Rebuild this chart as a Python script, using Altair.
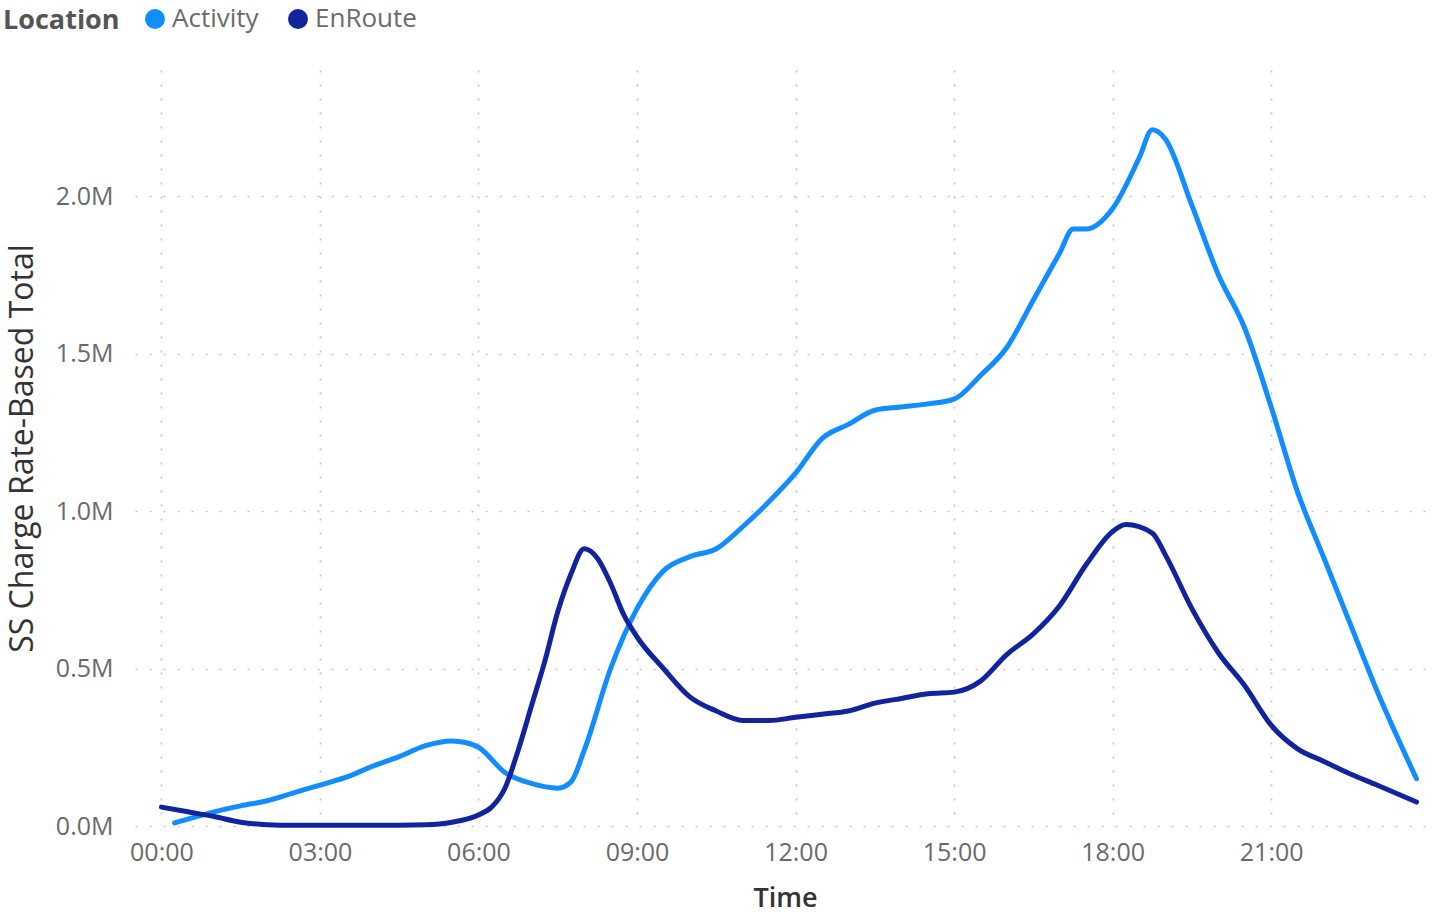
import altair as alt
import pandas as pd

# ---- data (hours of day, values in millions) ----
activity_hours = [0.25, 0.5, 1.0, 1.5, 2.0, 2.5, 3.0, 3.5, 4.0, 4.5, 5.0, 5.5, 5.75, 6.0, 6.5, 7.0,
                  7.5, 7.75, 8.0, 8.5, 9.0, 9.5, 10.0, 10.5, 11.0, 11.5, 12.0, 12.5, 13.0, 13.5,
                  14.0, 14.5, 15.0, 15.5, 16.0, 16.5, 17.0, 17.25, 17.5, 18.0, 18.5, 18.75, 19.0,
                  19.5, 20.0, 20.5, 21.0, 21.5, 22.0, 22.5, 23.0, 23.75]
activity_values = [0.01, 0.022, 0.045, 0.064, 0.08, 0.105, 0.13, 0.155, 0.19, 0.22, 0.255, 0.27, 0.265,
                   0.25, 0.17, 0.135, 0.12, 0.14, 0.24, 0.50, 0.69, 0.81, 0.855, 0.88, 0.95, 1.03,
                   1.12, 1.23, 1.275, 1.32, 1.33, 1.34, 1.355, 1.43, 1.52, 1.67, 1.82, 1.895, 1.895,
                   1.96, 2.12, 2.21, 2.18, 1.97, 1.75, 1.58, 1.33, 1.06, 0.85, 0.64, 0.43, 0.15]

enroute_hours = [0.0, 0.5, 1.0, 1.5, 2.0, 2.5, 3.0, 4.0, 5.0, 5.5, 6.0, 6.25, 6.5, 6.75, 7.0, 7.25,
                 7.5, 7.75, 8.0, 8.25, 8.5, 8.75, 9.0, 9.5, 10.0, 10.5, 11.0, 11.5, 12.0, 12.5,
                 13.0, 13.5, 14.0, 14.5, 15.0, 15.5, 16.0, 16.5, 17.0, 17.5, 18.0, 18.25, 18.75,
                 19.0, 19.5, 20.0, 20.5, 21.0, 21.5, 22.0, 22.5, 23.0, 23.75]
enroute_values = [0.06, 0.045, 0.03, 0.012, 0.004, 0.002, 0.002, 0.002, 0.004, 0.012, 0.035, 0.06,
                  0.12, 0.24, 0.38, 0.52, 0.68, 0.80, 0.88, 0.85, 0.77, 0.67, 0.60, 0.50, 0.41,
                  0.365, 0.335, 0.335, 0.345, 0.355, 0.365, 0.39, 0.405, 0.42, 0.425, 0.46, 0.545,
                  0.61, 0.70, 0.83, 0.935, 0.957, 0.93, 0.86, 0.69, 0.55, 0.445, 0.32, 0.245,
                  0.205, 0.165, 0.13, 0.076]

series_names = ["Activity", "EnRoute"]
series_colors = ["#118DFF", "#12239E"]
x_tick_values = [0, 3, 6, 9, 12, 15, 18, 21]
y_tick_values = [0, 0.5, 1.0, 1.5, 2.0]

rows = []
for h, v in zip(activity_hours, activity_values):
    rows.append({"Time": h, "Value": v, "Location": "Activity"})
for h, v in zip(enroute_hours, enroute_values):
    rows.append({"Time": h, "Value": v, "Location": "EnRoute"})
df = pd.DataFrame(rows)

FONT = "Open Sans"

chart = alt.Chart(df).mark_line(
    strokeWidth=5, strokeCap="round", strokeJoin="round", interpolate="monotone"
).encode(
    x=alt.X("Time:Q",
            scale=alt.Scale(domain=[-0.5, 24.1], nice=False, zero=False),
            axis=alt.Axis(values=x_tick_values,
                          labelExpr="(datum.value < 10 ? '0' : '') + datum.value + ':00'",
                          title="Time", titleFontWeight=600, titleFontSize=27,
                          titleColor="#333333", titleY=72, titleBaseline="middle",
                          labelFontSize=25, labelColor="#6a6a6a", labelPadding=14,
                          labelFont=FONT, titleFont=FONT,
                          domain=False, ticks=False,
                          grid=True, gridDash=[2, 12], gridColor="#c4c4c4", gridWidth=1.7)),
    y=alt.Y("Value:Q",
            scale=alt.Scale(domain=[0, 2.4], nice=False),
            axis=alt.Axis(values=y_tick_values,
                          labelExpr="format(datum.value, '.1f') + 'M'",
                          title="SS Charge Rate-Based Total", titleFontWeight="normal",
                          titleFontSize=32, titleColor="#333333",
                          titleX=-113, titleY=448 - 70, titleAngle=-90,
                          titleAlign="center", titleBaseline="middle",
                          labelFontSize=25, labelColor="#6a6a6a", labelPadding=22,
                          labelFont=FONT, titleFont=FONT,
                          domain=False, ticks=False,
                          grid=True, gridDash=[2, 12], gridColor="#c4c4c4", gridWidth=1.7)),
    color=alt.Color("Location:N",
                    scale=alt.Scale(domain=series_names, range=series_colors),
                    legend=alt.Legend(orient="none", legendX=-132, legendY=-64,
                                      direction="horizontal", titleOrient="left",
                                      titleAnchor="middle", titleBaseline="line-bottom",
                                      titleLineHeight=8,
                                      title="Location", titleFontSize=27, titleFontWeight="bold",
                                      titleColor="#555555", titleFont=FONT, titlePadding=22,
                                      labelFontSize=26, labelColor="#6a6a6a", labelFont=FONT,
                                      labelBaseline="middle",
                                      symbolType="circle", symbolSize=100, symbolStrokeWidth=10,
                                      labelOffset=4, columnPadding=14)),
).properties(
    width=1300, height=756,
    autosize=alt.AutoSizeParams(type="none"),
    padding={"left": 135, "top": 70, "right": 5, "bottom": 88},
).configure(background="white").configure_view(strokeWidth=0, stroke=None)

chart.save("out.html", embed_options={"renderer": "svg", "actions": False})
